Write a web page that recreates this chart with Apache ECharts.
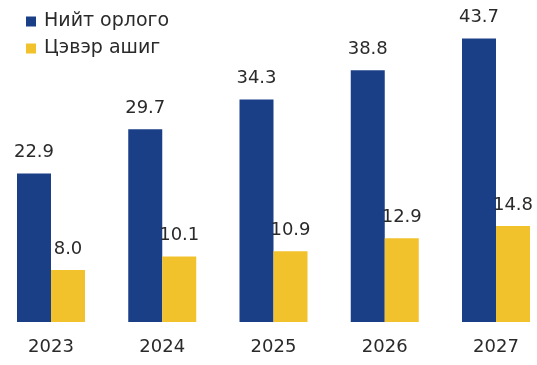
<!DOCTYPE html>
<html>
<head>
<meta charset="utf-8">
<script src="https://cdn.jsdelivr.net/npm/echarts@6/dist/echarts.min.js"></script>
<style>html,body{margin:0;padding:0;background:#fff;}#c{width:537px;height:365px;}</style>
</head>
<body>
<div id="c"></div>
<script>
const categories = ['2023', '2024', '2025', '2026', '2027'];
const revenue = [22.9, 29.7, 34.3, 38.8, 43.7];
const netProfit = [8.0, 10.1, 10.9, 12.9, 14.8];
const seriesNames = ['Нийт орлого', 'Цэвэр ашиг'];

const chart = echarts.init(document.getElementById('c'));
const font = 'DejaVu Sans';
chart.setOption({
  animation: false,
  legend: {
    orient: 'vertical', left: 21, top: 7,
    itemWidth: 10, itemHeight: 10, itemGap: 8,
    icon: 'rect',
    textStyle: { fontFamily: font, fontSize: 19, color: '#2a2a2a', padding: [0, 0, 0, 3] },
    data: seriesNames
  },
  grid: { left: 51, right: 41, top: 30, bottom: 43, containLabel: false },
  xAxis: {
    type: 'category', data: categories, boundaryGap: false,
    axisLine: { show: false }, axisTick: { show: false },
    axisLabel: { fontFamily: font, fontSize: 18, color: '#2a2a2a', margin: 16 }
  },
  yAxis: { type: 'value', min: 0, max: 45, show: false, splitLine: { show: false } },
  series: [
    {
      name: seriesNames[0], type: 'bar', data: revenue, barWidth: 34, barGap: '0%',
      itemStyle: { color: '#1b3f87' },
      label: { show: true, position: 'top', distance: 12, fontFamily: font, fontSize: 18, color: '#2a2a2a',
        formatter: p => p.value.toFixed(1) }
    },
    {
      name: seriesNames[1], type: 'bar', data: netProfit, barWidth: 34,
      itemStyle: { color: '#f1c22b' },
      label: { show: true, position: 'top', distance: 12, fontFamily: font, fontSize: 18, color: '#2a2a2a',
        formatter: p => p.value.toFixed(1) }
    }
  ]
});
</script>
</body>
</html>
